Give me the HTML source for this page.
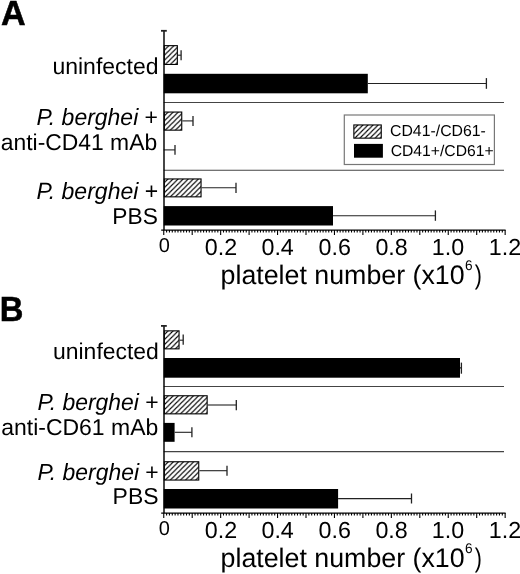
<!DOCTYPE html>
<html><head><meta charset="utf-8"><style>
html,body{margin:0;padding:0;background:#fff;}
svg{display:block;filter:grayscale(1);}
text{font-family:"Liberation Sans",sans-serif;fill:#000;text-rendering:geometricPrecision;}
.sep{stroke:#444;stroke-width:1.1;}
.ax{stroke:#000;stroke-width:1.45;}
.tt{stroke:#222;stroke-width:1.8;}
.tk{stroke:#000;stroke-width:1.1;fill:none;}
.eb{stroke:#222;stroke-width:1.1;}
.ec{stroke:#222;stroke-width:1.3;}
.hb{stroke:#000;stroke-width:1.1;}
.lg{fill:none;stroke:#777;stroke-width:1.2;}
</style></head><body>
<svg width="520" height="574" viewBox="0 0 520 574">
<defs><pattern id="h0" patternUnits="userSpaceOnUse" x="1.60" y="0" width="5.07" height="5.07"><path d="M-1,1 L1,-1 M0,5.07 L5.07,0 M4.07,6.07 L6.07,4.07" stroke="#000" stroke-width="1.1"/></pattern>
<pattern id="h1" patternUnits="userSpaceOnUse" x="1.39" y="0" width="5.07" height="5.07"><path d="M-1,1 L1,-1 M0,5.07 L5.07,0 M4.07,6.07 L6.07,4.07" stroke="#000" stroke-width="1.1"/></pattern>
<pattern id="h2" patternUnits="userSpaceOnUse" x="2.18" y="0" width="5.07" height="5.07"><path d="M-1,1 L1,-1 M0,5.07 L5.07,0 M4.07,6.07 L6.07,4.07" stroke="#000" stroke-width="1.1"/></pattern>
<pattern id="h3" patternUnits="userSpaceOnUse" x="2.08" y="0" width="5.07" height="5.07"><path d="M-1,1 L1,-1 M0,5.07 L5.07,0 M4.07,6.07 L6.07,4.07" stroke="#000" stroke-width="1.1"/></pattern>
<pattern id="h4" patternUnits="userSpaceOnUse" x="1.17" y="0" width="5.07" height="5.07"><path d="M-1,1 L1,-1 M0,5.07 L5.07,0 M4.07,6.07 L6.07,4.07" stroke="#000" stroke-width="1.1"/></pattern>
<pattern id="h5" patternUnits="userSpaceOnUse" x="1.46" y="0" width="5.07" height="5.07"><path d="M-1,1 L1,-1 M0,5.07 L5.07,0 M4.07,6.07 L6.07,4.07" stroke="#000" stroke-width="1.1"/></pattern>
<pattern id="h6" patternUnits="userSpaceOnUse" x="1.21" y="0" width="5.07" height="5.07"><path d="M-1,1 L1,-1 M0,5.07 L5.07,0 M4.07,6.07 L6.07,4.07" stroke="#000" stroke-width="1.1"/></pattern></defs>
<rect width="520" height="574" fill="#fff"/>
<line x1="163.75" y1="102.5" x2="504" y2="102.5" class="sep"/>
<line x1="163.75" y1="170.2" x2="504" y2="170.2" class="sep"/>
<rect x="164.30" y="45.65" width="13.05" height="18.80" class="hb" fill="url(#h0)"/>
<line x1="177.90" y1="55.2" x2="181.1" y2="55.2" class="eb"/>
<line x1="181.1" y1="50.3" x2="181.1" y2="60.2" class="ec"/>
<rect x="163.75" y="73.80" width="204.05" height="19.50" fill="#000"/>
<line x1="367.80" y1="83.5" x2="486.4" y2="83.5" class="eb"/>
<line x1="486.4" y1="78.1" x2="486.4" y2="88.8" class="ec"/>
<rect x="164.30" y="112.05" width="17.45" height="18.10" class="hb" fill="url(#h1)"/>
<line x1="182.30" y1="120.9" x2="193.0" y2="120.9" class="eb"/>
<line x1="193.0" y1="116.0" x2="193.0" y2="126.1" class="ec"/>
<line x1="163.75" y1="149.9" x2="175.0" y2="149.9" class="eb"/>
<line x1="175.0" y1="144.9" x2="175.0" y2="154.8" class="ec"/>
<rect x="164.30" y="178.95" width="36.75" height="17.90" class="hb" fill="url(#h2)"/>
<line x1="201.60" y1="187.8" x2="236.0" y2="187.8" class="eb"/>
<line x1="236.0" y1="182.8" x2="236.0" y2="193.0" class="ec"/>
<rect x="163.75" y="206.10" width="169.25" height="19.40" fill="#000"/>
<line x1="333.00" y1="215.7" x2="435.4" y2="215.7" class="eb"/>
<line x1="435.4" y1="210.4" x2="435.4" y2="220.8" class="ec"/>
<line x1="164" y1="30.8" x2="164" y2="230.1" class="ax"/>
<line x1="161" y1="30.8" x2="166.8" y2="30.8" class="tt"/>
<line x1="161.2" y1="230.1" x2="505.6" y2="230.1" class="ax"/>
<path d="M163.75,230.1v5.0M166.59,230.1v2.5M169.44,230.1v2.5M172.28,230.1v2.5M175.13,230.1v2.5M177.97,230.1v2.5M180.82,230.1v2.5M183.66,230.1v2.5M186.51,230.1v2.5M189.35,230.1v2.5M192.20,230.1v5.0M195.05,230.1v2.5M197.89,230.1v2.5M200.74,230.1v2.5M203.58,230.1v2.5M206.43,230.1v2.5M209.27,230.1v2.5M212.12,230.1v2.5M214.96,230.1v2.5M217.81,230.1v2.5M220.65,230.1v5.0M223.50,230.1v2.5M226.34,230.1v2.5M229.19,230.1v2.5M232.03,230.1v2.5M234.88,230.1v2.5M237.72,230.1v2.5M240.56,230.1v2.5M243.41,230.1v2.5M246.25,230.1v2.5M249.10,230.1v5.0M251.94,230.1v2.5M254.79,230.1v2.5M257.63,230.1v2.5M260.48,230.1v2.5M263.32,230.1v2.5M266.17,230.1v2.5M269.01,230.1v2.5M271.86,230.1v2.5M274.70,230.1v2.5M277.55,230.1v5.0M280.39,230.1v2.5M283.24,230.1v2.5M286.08,230.1v2.5M288.93,230.1v2.5M291.77,230.1v2.5M294.62,230.1v2.5M297.47,230.1v2.5M300.31,230.1v2.5M303.15,230.1v2.5M306.00,230.1v5.0M308.85,230.1v2.5M311.69,230.1v2.5M314.53,230.1v2.5M317.38,230.1v2.5M320.23,230.1v2.5M323.07,230.1v2.5M325.91,230.1v2.5M328.76,230.1v2.5M331.61,230.1v2.5M334.45,230.1v5.0M337.29,230.1v2.5M340.14,230.1v2.5M342.99,230.1v2.5M345.83,230.1v2.5M348.68,230.1v2.5M351.52,230.1v2.5M354.37,230.1v2.5M357.21,230.1v2.5M360.06,230.1v2.5M362.90,230.1v5.0M365.75,230.1v2.5M368.59,230.1v2.5M371.44,230.1v2.5M374.28,230.1v2.5M377.12,230.1v2.5M379.97,230.1v2.5M382.81,230.1v2.5M385.66,230.1v2.5M388.50,230.1v2.5M391.35,230.1v5.0M394.19,230.1v2.5M397.04,230.1v2.5M399.88,230.1v2.5M402.73,230.1v2.5M405.57,230.1v2.5M408.42,230.1v2.5M411.26,230.1v2.5M414.11,230.1v2.5M416.96,230.1v2.5M419.80,230.1v5.0M422.64,230.1v2.5M425.49,230.1v2.5M428.33,230.1v2.5M431.18,230.1v2.5M434.02,230.1v2.5M436.87,230.1v2.5M439.71,230.1v2.5M442.56,230.1v2.5M445.40,230.1v2.5M448.25,230.1v5.0M451.10,230.1v2.5M453.94,230.1v2.5M456.79,230.1v2.5M459.63,230.1v2.5M462.48,230.1v2.5M465.32,230.1v2.5M468.17,230.1v2.5M471.01,230.1v2.5M473.86,230.1v2.5M476.70,230.1v5.0M479.55,230.1v2.5M482.39,230.1v2.5M485.24,230.1v2.5M488.08,230.1v2.5M490.93,230.1v2.5M493.77,230.1v2.5M496.62,230.1v2.5M499.46,230.1v2.5M502.31,230.1v2.5M505.15,230.1v5.0" class="tk"/>
<text x="158.64" y="252.40" font-size="20">0</text>
<text x="204.79" y="254.60" font-size="23.3">0.2</text>
<text x="261.44" y="254.60" font-size="23.3">0.4</text>
<text x="318.51" y="254.60" font-size="23.3">0.6</text>
<text x="375.41" y="254.60" font-size="23.3">0.8</text>
<text x="431.82" y="254.60" font-size="23.3">1.0</text>
<text x="488.85" y="254.60" font-size="23.3">1.2</text>
<text transform="translate(220.57,283.50) scale(1.0,1.0)" font-size="26.784"><tspan>platelet number (x10</tspan></text>
<text transform="translate(465.11,270.45) scale(1.0,1.03)" font-size="13.653"><tspan>6</tspan></text>
<text transform="translate(474.77,283.55) scale(0.8,1.0)" font-size="26.800"><tspan>)</tspan></text>
<line x1="163.75" y1="386.5" x2="504" y2="386.5" class="sep"/>
<line x1="163.75" y1="451.6" x2="504" y2="451.6" class="sep"/>
<rect x="164.30" y="330.85" width="14.75" height="18.00" class="hb" fill="url(#h3)"/>
<line x1="179.60" y1="340.2" x2="183.2" y2="340.2" class="eb"/>
<line x1="183.2" y1="334.6" x2="183.2" y2="344.8" class="ec"/>
<rect x="163.75" y="358.00" width="296.25" height="19.70" fill="#000"/>
<line x1="460.00" y1="367.9" x2="461.4" y2="367.9" class="eb"/>
<line x1="461.4" y1="362.6" x2="461.4" y2="373.7" class="ec"/>
<rect x="164.30" y="395.75" width="42.85" height="18.10" class="hb" fill="url(#h4)"/>
<line x1="207.70" y1="405.0" x2="236.3" y2="405.0" class="eb"/>
<line x1="236.3" y1="400.1" x2="236.3" y2="410.2" class="ec"/>
<rect x="163.75" y="422.90" width="10.85" height="18.90" fill="#000"/>
<line x1="174.60" y1="432.3" x2="191.9" y2="432.3" class="eb"/>
<line x1="191.9" y1="427.3" x2="191.9" y2="437.3" class="ec"/>
<rect x="164.30" y="461.75" width="34.45" height="18.30" class="hb" fill="url(#h5)"/>
<line x1="199.30" y1="470.7" x2="227.0" y2="470.7" class="eb"/>
<line x1="227.0" y1="465.8" x2="227.0" y2="475.7" class="ec"/>
<rect x="163.75" y="489.00" width="174.35" height="19.50" fill="#000"/>
<line x1="338.10" y1="498.6" x2="411.5" y2="498.6" class="eb"/>
<line x1="411.5" y1="493.5" x2="411.5" y2="503.5" class="ec"/>
<line x1="164" y1="325.9" x2="164" y2="513.1" class="ax"/>
<line x1="161" y1="325.9" x2="166.8" y2="325.9" class="tt"/>
<line x1="161.2" y1="513.1" x2="505.6" y2="513.1" class="ax"/>
<path d="M163.75,513.1v5.0M166.59,513.1v2.5M169.44,513.1v2.5M172.28,513.1v2.5M175.13,513.1v2.5M177.97,513.1v2.5M180.82,513.1v2.5M183.66,513.1v2.5M186.51,513.1v2.5M189.35,513.1v2.5M192.20,513.1v5.0M195.05,513.1v2.5M197.89,513.1v2.5M200.74,513.1v2.5M203.58,513.1v2.5M206.43,513.1v2.5M209.27,513.1v2.5M212.12,513.1v2.5M214.96,513.1v2.5M217.81,513.1v2.5M220.65,513.1v5.0M223.50,513.1v2.5M226.34,513.1v2.5M229.19,513.1v2.5M232.03,513.1v2.5M234.88,513.1v2.5M237.72,513.1v2.5M240.56,513.1v2.5M243.41,513.1v2.5M246.25,513.1v2.5M249.10,513.1v5.0M251.94,513.1v2.5M254.79,513.1v2.5M257.63,513.1v2.5M260.48,513.1v2.5M263.32,513.1v2.5M266.17,513.1v2.5M269.01,513.1v2.5M271.86,513.1v2.5M274.70,513.1v2.5M277.55,513.1v5.0M280.39,513.1v2.5M283.24,513.1v2.5M286.08,513.1v2.5M288.93,513.1v2.5M291.77,513.1v2.5M294.62,513.1v2.5M297.47,513.1v2.5M300.31,513.1v2.5M303.15,513.1v2.5M306.00,513.1v5.0M308.85,513.1v2.5M311.69,513.1v2.5M314.53,513.1v2.5M317.38,513.1v2.5M320.23,513.1v2.5M323.07,513.1v2.5M325.91,513.1v2.5M328.76,513.1v2.5M331.61,513.1v2.5M334.45,513.1v5.0M337.29,513.1v2.5M340.14,513.1v2.5M342.99,513.1v2.5M345.83,513.1v2.5M348.68,513.1v2.5M351.52,513.1v2.5M354.37,513.1v2.5M357.21,513.1v2.5M360.06,513.1v2.5M362.90,513.1v5.0M365.75,513.1v2.5M368.59,513.1v2.5M371.44,513.1v2.5M374.28,513.1v2.5M377.12,513.1v2.5M379.97,513.1v2.5M382.81,513.1v2.5M385.66,513.1v2.5M388.50,513.1v2.5M391.35,513.1v5.0M394.19,513.1v2.5M397.04,513.1v2.5M399.88,513.1v2.5M402.73,513.1v2.5M405.57,513.1v2.5M408.42,513.1v2.5M411.26,513.1v2.5M414.11,513.1v2.5M416.96,513.1v2.5M419.80,513.1v5.0M422.64,513.1v2.5M425.49,513.1v2.5M428.33,513.1v2.5M431.18,513.1v2.5M434.02,513.1v2.5M436.87,513.1v2.5M439.71,513.1v2.5M442.56,513.1v2.5M445.40,513.1v2.5M448.25,513.1v5.0M451.10,513.1v2.5M453.94,513.1v2.5M456.79,513.1v2.5M459.63,513.1v2.5M462.48,513.1v2.5M465.32,513.1v2.5M468.17,513.1v2.5M471.01,513.1v2.5M473.86,513.1v2.5M476.70,513.1v5.0M479.55,513.1v2.5M482.39,513.1v2.5M485.24,513.1v2.5M488.08,513.1v2.5M490.93,513.1v2.5M493.77,513.1v2.5M496.62,513.1v2.5M499.46,513.1v2.5M502.31,513.1v2.5M505.15,513.1v5.0" class="tk"/>
<text x="158.64" y="535.40" font-size="20">0</text>
<text x="204.79" y="537.60" font-size="23.3">0.2</text>
<text x="261.44" y="537.60" font-size="23.3">0.4</text>
<text x="318.51" y="537.60" font-size="23.3">0.6</text>
<text x="375.41" y="537.60" font-size="23.3">0.8</text>
<text x="431.82" y="537.60" font-size="23.3">1.0</text>
<text x="488.85" y="537.60" font-size="23.3">1.2</text>
<text transform="translate(220.57,566.50) scale(1.0,1.0)" font-size="26.784"><tspan>platelet number (x10</tspan></text>
<text transform="translate(465.11,553.45) scale(1.0,1.03)" font-size="13.653"><tspan>6</tspan></text>
<text transform="translate(474.77,566.55) scale(0.8,1.0)" font-size="26.800"><tspan>)</tspan></text>
<rect x="344.3" y="115.0" width="150.1" height="49.5" class="lg"/>
<rect x="353.85" y="124.95" width="27.4" height="13.2" class="hb" fill="url(#h6)"/>
<rect x="354" y="143.9" width="28.9" height="13.8" fill="#000"/>
<text transform="translate(1.10,25.40) scale(1.0,1.02)" font-size="34.133" stroke="#000" stroke-width="0.5"><tspan font-weight="bold">A</tspan></text>
<text transform="translate(-0.21,320.60) scale(1.0,1.065)" font-size="32.745" stroke="#000" stroke-width="0.5"><tspan font-weight="bold">B</tspan></text>
<text transform="translate(52.41,74.20) scale(1.0,1.0)" font-size="23.008"><tspan>uninfected</tspan></text>
<text transform="translate(36.49,124.60) scale(1.0,1.02)" font-size="22.988"><tspan font-style="italic">P. berghei</tspan><tspan> +</tspan></text>
<text transform="translate(0.78,149.50) scale(1.0,1.0)" font-size="22.891"><tspan>anti-CD41 mAb</tspan></text>
<text transform="translate(36.39,198.80) scale(1.0,1.02)" font-size="23.026"><tspan font-style="italic">P. berghei</tspan><tspan> +</tspan></text>
<text transform="translate(112.33,223.80) scale(1.0,1.0)" font-size="22.744"><tspan>PBS</tspan></text>
<text transform="translate(53.01,358.70) scale(1.0,1.0)" font-size="22.941"><tspan>uninfected</tspan></text>
<text transform="translate(37.39,410.20) scale(1.0,1.02)" font-size="22.930"><tspan font-style="italic">P. berghei</tspan><tspan> +</tspan></text>
<text transform="translate(1.22,434.50) scale(1.0,1.0)" font-size="22.988"><tspan>anti-CD61 mAb</tspan></text>
<text transform="translate(37.50,480.30) scale(1.0,1.02)" font-size="22.911"><tspan font-style="italic">P. berghei</tspan><tspan> +</tspan></text>
<text transform="translate(112.62,503.80) scale(1.0,1.0)" font-size="22.957"><tspan>PBS</tspan></text>
<text transform="translate(390.00,136.00) scale(1.0,1.0)" font-size="15.834"><tspan>CD41-/CD61-</tspan></text>
<text transform="translate(390.70,155.50) scale(1.0,1.0)" font-size="15.699"><tspan>CD41+/CD61+</tspan></text>
</svg>
</body></html>
